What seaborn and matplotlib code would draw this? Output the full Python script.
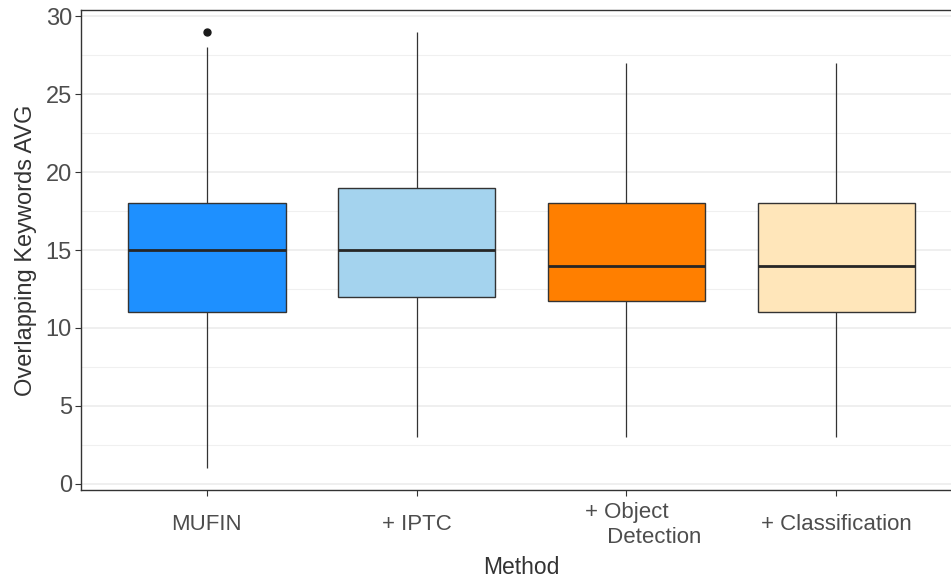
import pandas as pd
import matplotlib.pyplot as plt
import seaborn as sns
from matplotlib.ticker import MultipleLocator

sns.set_theme(style="white")
plt.rcParams['font.family'] = ['Liberation Sans', 'DejaVu Sans']

# 그림에서 읽은 값 (whisker low, Q1, median, Q3, whisker high, outlier)
methods = ['MUFIN', '+ IPTC', '+ Object\n         Detection', '+ Classification']
mufin_vals = [1, 11, 11, 15, 15, 15, 18, 28, 29]
iptc_vals = [3, 12, 15, 19, 29]
objdet_vals = [3, 11.75, 14, 18, 27]
classif_vals = [3, 11, 14, 18, 27]
colors = ['#1E90FF', '#A4D3EE', '#FF7F00', '#FFE6BA']

rows = []
for m, vals in zip(methods, [mufin_vals, iptc_vals, objdet_vals, classif_vals]):
    for v in vals:
        rows.append({'Method': m, 'value': v})
df = pd.DataFrame(rows)

fig = plt.figure(figsize=(9.51, 5.79), dpi=100)
ax = fig.add_axes([0.0852, 0.1537, 0.9264, 0.829])

# 격자
ax.set_axisbelow(True)
ax.yaxis.set_major_locator(MultipleLocator(5))
ax.yaxis.set_minor_locator(MultipleLocator(2.5))
ax.grid(True, which='major', color='#EBEBEB', linewidth=1.1)
ax.grid(True, which='minor', axis='y', color='#F0F0F0', linewidth=0.8)

sns.boxplot(data=df, x='Method', y='value', hue='Method', palette=colors,
            legend=False, width=0.75, saturation=1, linecolor='#333333',
            linewidth=1.0, showcaps=False, whis=1.5, ax=ax,
            whiskerprops={'color': '#333333', 'linewidth': 0.9},
            medianprops={'color': '#262626', 'linewidth': 2.0},
            flierprops={'marker': 'o', 'markerfacecolor': '#1a1a1a',
                        'markeredgecolor': '#1a1a1a', 'markersize': 5})

ax.set_xlim(-0.6, 3.6)
ax.set_ylim(-0.4, 30.4)

for s in ax.spines.values():
    s.set_color('#333333')
    s.set_linewidth(1.0)

ax.tick_params(axis='both', which='major', length=4, width=0.8, color='#333333',
               bottom=True, left=True)
ax.tick_params(axis='y', which='minor', length=0)
ax.tick_params(axis='y', labelsize=17, labelcolor='#4D4D4D', pad=2.5)
ax.tick_params(axis='x', labelsize=16, labelcolor='#4D4D4D', pad=21)
for lab in ax.get_xticklabels():
    lab.set_verticalalignment('center')
    lab.set_linespacing(1.25)

ax.set_xlabel('Method', fontsize=16.5, color='#333333', labelpad=6)
ax.set_ylabel('Overlapping Keywords AVG', fontsize=17, color='#333333', labelpad=6)

plt.savefig('out.png', dpi=100)
